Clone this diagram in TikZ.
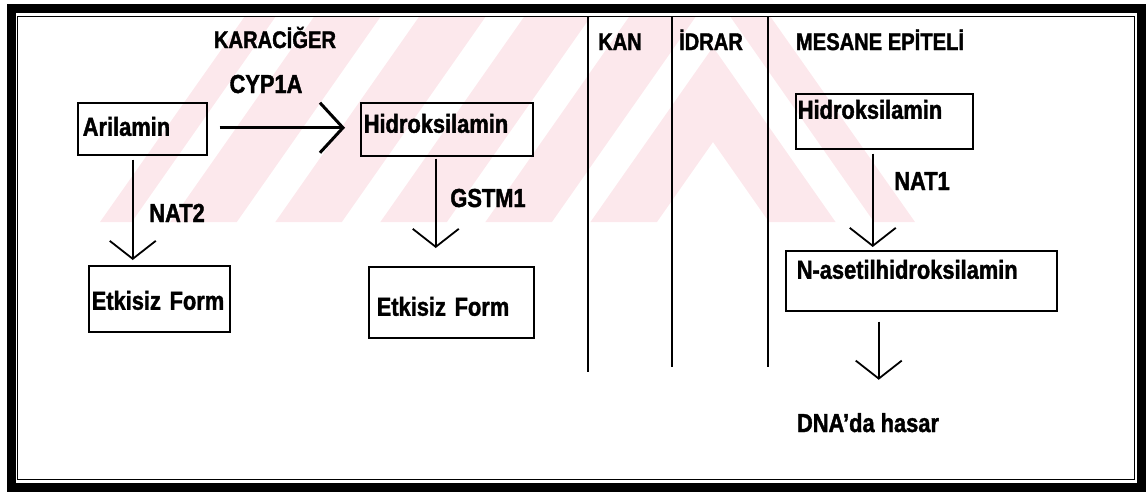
\documentclass[tikz,border=0pt]{standalone}
\usepackage{fontspec}
\setmainfont{Liberation Sans}[FakeStretch=0.84, BoldFeatures={FakeBold=1.5}]
\usetikzlibrary{arrows.meta,calc}
\definecolor{wm}{RGB}{252,232,236}
\begin{document}
\begin{tikzpicture}[x=0.5pt,y=-0.5pt,
  font=\fontsize{13}{15}\selectfont\bfseries,
  box/.style={draw, line width=0.75pt, inner ysep=0pt, align=left, anchor=north west},
  lbl/.style={inner sep=0pt, anchor=base},
  hdr/.style={lbl, font=\fontsize{12}{14}\selectfont\bfseries},
  varr/.style={line width=0.9pt, -{Straight Barb[length=9pt,width=23pt]}},
  harr/.style={line width=1.5pt, -{Straight Barb[length=11.5pt,width=25pt]}},
  divline/.style={line width=0.75pt}]
\useasboundingbox (0,0) rectangle (1147,493);
% faint watermark
\begin{scope}
\clip (100,222) -- (245,16) -- (770,16) -- (915,222) -- cycle;
\foreach \a in {47,-103,-253,-403,-553,-703} {
  \fill[wm] (-287,{\a+1428}) -- (713,\a) -- (1713,{\a+1428}) -- (1713,{\a+95+1428}) -- (713,{\a+95}) -- (-287,{\a+95+1428}) -- cycle;
}
\end{scope}
% frame
\draw[line width=4.5pt] (11,8) rectangle (1141,487);
\draw[line width=0.5pt] (17,16) rectangle (1134,479);
% column dividers
\draw[divline] (588,16) -- (588,372);
\draw[divline] (672,16) -- (672,367);
\draw[divline] (768,16) -- (768,367);
% headers
\node[hdr] (karaciger) at (275,48) {KARACİĞER};
\node[hdr] (kan) at (620,50) {KAN};
\node[hdr] (idrar) at (711,50) {İDRAR};
\node[hdr] (mesane) at (880,50) {MESANE EPİTELİ};
% boxes
\node[box, inner xsep=2.5pt, text width=59.5pt, text height=16.5pt, text depth=9.5pt] (ar) at (77,102) {Arilamin};
\node[box, inner xsep=1.5pt, text width=83pt, text height=15pt, text depth=11.5pt] (hl) at (360,102) {Hidroksilamin};
\node[box, inner xsep=1.5pt, text width=67.5pt, text height=22pt, text depth=11pt] (el) at (88,265) {Etkisiz Form};
\node[box, inner xsep=4pt, text width=74.5pt, text height=24.5pt, text depth=11pt] (em) at (368,266) {Etkisiz Form};
\node[box, inner xsep=1pt, text width=86.5pt, text height=12.5pt, text depth=15pt] (hr) at (795,93) {Hidroksilamin};
\node[box, inner xsep=5.5pt, text width=124.5pt, text height=14pt, text depth=16pt] (na) at (785,250) {N-asetilhidroksilamin};
\node[lbl] (dna) at (868,432) {DNA'da hasar};
% enzyme labels
\node[lbl] (cyp) at (266,93) {CYP1A};
\node[lbl] (nat2) at (177,222) {NAT2};
\node[lbl] (gstm) at (488,207) {GSTM1};
\node[lbl] (nat1) at (922,190) {NAT1};
% connectors
\draw[harr] ([xshift=6pt,yshift=0.5pt]ar.east) -- ([xshift=-7.5pt,yshift=0.5pt]ar.east -| hl.west);
\draw[varr] ([xshift=-4.75pt,yshift=-2pt]ar.south) -- ([xshift=-4.75pt,yshift=2.5pt]ar.south |- el.north);
\draw[varr] ([xshift=-5.5pt,yshift=-1pt]hl.south) -- ([xshift=-5.5pt,yshift=9pt]hl.south |- em.north);
\draw[varr] ([xshift=-5.75pt,yshift=-2pt]hr.south) -- ([xshift=-5.75pt,yshift=1.5pt]hr.south |- na.north);
\draw[varr] ([xshift=-21.25pt,yshift=-5pt]na.south) -- ([xshift=-21.25pt,yshift=16.5pt]na.south |- dna.north);
\end{tikzpicture}
\end{document}
